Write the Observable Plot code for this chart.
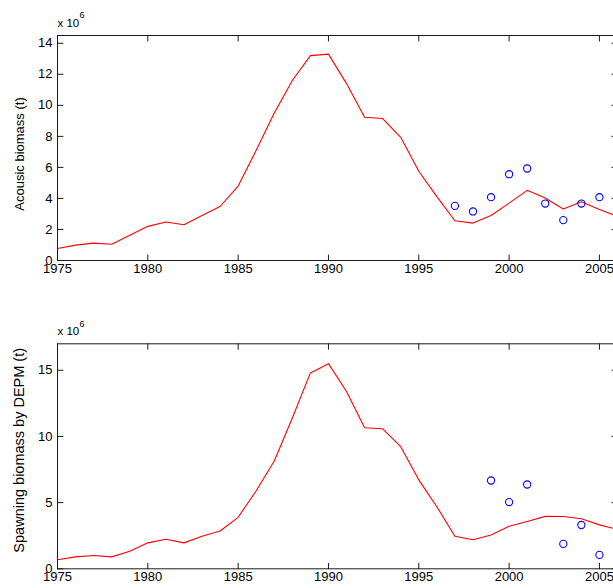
<!DOCTYPE html>
<html>
<head>
<meta charset="utf-8">
<script src="https://cdn.jsdelivr.net/npm/d3@7"></script>
<script src="https://cdn.jsdelivr.net/npm/@observablehq/plot@0.6"></script>
<style>
  html, body { margin: 0; padding: 0; background: #fff; overflow: hidden; }
  #chart svg { display: block; }
</style>
</head>
<body>
<div id="chart"></div>
<script>
// ---- data (values in millions of tonnes, axis multiplier x 10^6) ----
const years = [1975,1976,1977,1978,1979,1980,1981,1982,1983,1984,1985,1986,1987,1988,1989,1990,
               1991,1992,1993,1994,1995,1996,1997,1998,1999,2000,2001,2002,2003,2004,2005,2006];
const acousticModel = [0.77,0.99,1.12,1.05,1.63,2.2,2.48,2.3,2.9,3.48,4.8,7.1,9.5,11.6,13.2,13.3,
                       11.4,9.23,9.15,7.94,5.75,4.12,2.56,2.41,2.9,3.7,4.52,4.03,3.32,3.78,3.28,2.85];
const acousticObsYears = [1997,1998,1999,2000,2001,2002,2003,2004,2005];
const acousticObs = [3.52,3.16,4.08,5.56,5.93,3.67,2.6,3.67,4.08];

const depmModel = [0.68,0.9,1.0,0.9,1.33,1.96,2.23,1.96,2.46,2.86,3.89,5.9,8.15,11.4,14.8,15.5,
                   13.4,10.66,10.58,9.23,6.72,4.69,2.46,2.2,2.56,3.22,3.58,3.96,3.95,3.78,3.32,2.98];
const depmObsYears = [1999,2000,2001,2003,2004,2005];
const depmObs = [6.67,5.04,6.37,1.88,3.31,1.05];

const xTicks = [1975,1980,1985,1990,1995,2000,2005];
const acousticYTicks = [0,2,4,6,8,10,12,14];
const depmYTicks = [0,5,10,15];
const xDomain = [1975, 2006];
const acousticYDomain = [0, 14.5];
const depmYDomain = [0, 17];

const FONT = "'Liberation Sans', Arial, Helvetica, sans-serif";
const AXIS = "#1a1a1a";
const tickShape = { draw(context, l) { context.moveTo(0, 0); context.lineTo(0, -l); } };

function panel({model, obsYears, obs, yTicks, yDomain, ylabel, labelSize, height, marginTop, marginBottom, labelDy}) {
  const modelRows = years.map((y, i) => ({year: y, v: model[i]}));
  const obsRows = obsYears.map((y, i) => ({year: y, v: obs[i]}));
  const tk = {length: 5.5, anchor: "start", shape: tickShape, stroke: AXIS, strokeWidth: 1};
  return Plot.plot({
    width: 613,
    height,
    marginTop,
    marginBottom,
    marginLeft: 57,
    marginRight: -4,
    style: {fontFamily: FONT, fontSize: "13px", color: "#000", background: "#fff"},
    x: {domain: xDomain},
    y: {domain: yDomain},
    marks: [
      Plot.line(modelRows, {x: "year", y: "v", stroke: "#ff0000", strokeWidth: 1.1}),
      Plot.dot(obsRows, {x: "year", y: "v", r: 3.6, stroke: "#0000ff", fill: "none", strokeWidth: 1.1}),
      Plot.frame({stroke: AXIS, strokeWidth: 1}),
      // inside ticks on all four sides
      Plot.vector(xTicks, {x: d => d, frameAnchor: "bottom", rotate: 0, ...tk}),
      Plot.vector(xTicks, {x: d => d, frameAnchor: "top", rotate: 180, ...tk}),
      Plot.vector(yTicks, {y: d => d, frameAnchor: "left", rotate: 90, ...tk}),
      Plot.vector(yTicks, {y: d => d, frameAnchor: "right", rotate: -90, ...tk}),
      Plot.axisX(xTicks, {anchor: "bottom", tickSize: 0, tickPadding: 3, label: null, tickFormat: d => String(d), fontSize: 13, fill: "#000"}),
      Plot.axisY(yTicks, {anchor: "left", tickSize: 0, tickPadding: 5, label: null, tickFormat: d => String(d), fontSize: 13, fill: "#000"}),
      Plot.text(["x 10"], {frameAnchor: "top-left", text: d => d, textAnchor: "start", lineAnchor: "middle", dy: -12, fontSize: 11.5, fill: "#000"}),
      Plot.text(["6"], {frameAnchor: "top-left", text: d => d, textAnchor: "start", lineAnchor: "middle", dx: 22, dy: -20, fontSize: 9, fill: "#000"}),
      Plot.text([ylabel], {frameAnchor: "left", text: d => d, rotate: -90, textAnchor: "middle", lineAnchor: "middle", dx: -38, dy: labelDy, fontSize: labelSize, fill: "#000"})
    ]
  });
}

const root = document.getElementById("chart");
root.appendChild(panel({
  model: acousticModel, obsYears: acousticObsYears, obs: acousticObs,
  yTicks: acousticYTicks, yDomain: acousticYDomain, ylabel: "Acousic biomass (t)", labelSize: 13,
  height: 300, marginTop: 35, marginBottom: 40, labelDy: 6
}));
root.appendChild(panel({
  model: depmModel, obsYears: depmObsYears, obs: depmObs,
  yTicks: depmYTicks, yDomain: depmYDomain, ylabel: "Spawning biomass by DEPM (t)", labelSize: 14.5,
  height: 288, marginTop: 43.3, marginBottom: 19.7, labelDy: -6
}));
</script>
</body>
</html>
